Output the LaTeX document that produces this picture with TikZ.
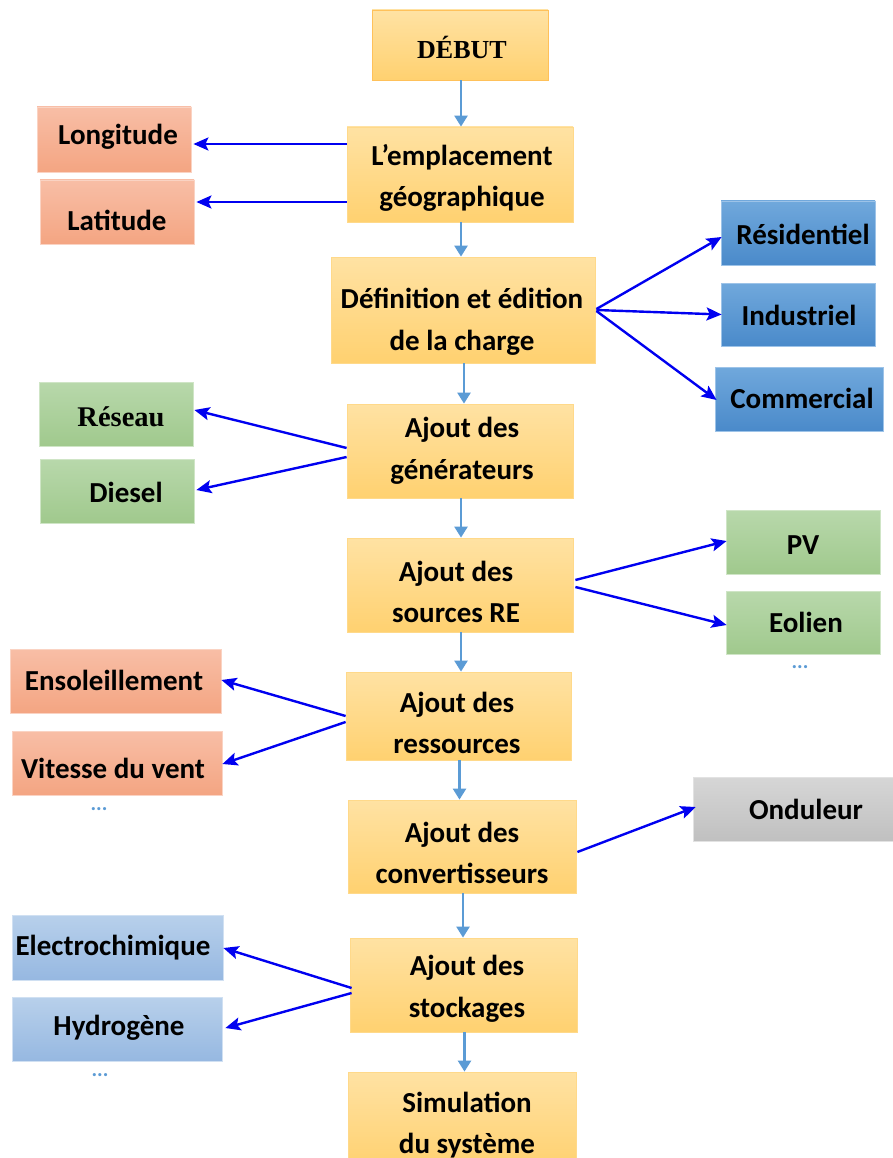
\documentclass[tikz,border=0pt]{standalone}
\usepackage{fontspec}
\setmainfont{Carlito}
\newfontfamily\serifb{Liberation Serif}
\usetikzlibrary{arrows.meta,calc}
\definecolor{ytop}{HTML}{FFE2A3}\definecolor{ybot}{HTML}{FFD170}\definecolor{yline}{HTML}{FFD98A}
\definecolor{otop}{HTML}{F8BEA6}\definecolor{obot}{HTML}{F4A582}\definecolor{oline}{HTML}{FAD3C3}
\definecolor{gtop}{HTML}{B8D8AB}\definecolor{gbot}{HTML}{A0C98D}\definecolor{gline}{HTML}{CFE5C6}
\definecolor{btop}{HTML}{70A8DC}\definecolor{bbot}{HTML}{4A8ACA}\definecolor{bline}{HTML}{9DC3E8}
\definecolor{ltop}{HTML}{B8D0EB}\definecolor{lbot}{HTML}{96B8E1}\definecolor{lline}{HTML}{D0E0F2}
\definecolor{stop}{HTML}{D6D6D6}\definecolor{sbot}{HTML}{C0C0C0}\definecolor{sline}{HTML}{E2E2E2}
\definecolor{flow}{HTML}{5B9BD5}
\definecolor{side}{HTML}{0000F0}
\tikzset{
  box/.style={rectangle, inner sep=0pt, line width=0.8pt},
  ybox/.style={box, top color=ytop, bottom color=ybot, draw=yline},
  obox/.style={box, top color=otop, bottom color=obot, draw=oline},
  gbox/.style={box, top color=gtop, bottom color=gbot, draw=gline},
  bbox/.style={box, top color=btop, bottom color=bbot, draw=bline},
  lbox/.style={box, top color=ltop, bottom color=lbot, draw=lline},
  sbox/.style={box, top color=stop, bottom color=sbot, draw=sline},
  txt/.style={align=center, inner sep=0pt, font=\fontsize{29}{41.5}\selectfont\bfseries},
  dots/.style={inner sep=0pt, text=flow, font=\fontsize{21}{21}\selectfont\bfseries},
  flowarrow/.style={draw=flow, line width=2.4pt, -{Triangle[length=11pt,width=13pt]}},
  sidearrow/.style={draw=side, line width=2.4pt, -{Stealth[length=15pt,width=13pt,inset=3pt]}}
}
\begin{document}
\begin{tikzpicture}[x=1pt,y=-1pt]
\clip (0,0) rectangle (893,1158);
\useasboundingbox (0,0) rectangle (893,1158);
\fill[white] (0,0) rectangle (893,1158);

% main column
\node[ybox, draw=ybot!80!orange, minimum width=176, minimum height=70] (debut) at (460,45) {};
\node[inner sep=0pt, font=\fontsize{26}{26}\selectfont\serifb\bfseries] at (462,47) {DÉBUT};
\node[ybox, minimum width=226, minimum height=95] (empl) at (460,174.5) {};
\node[txt] at (462,178) {L’emplacement\\géographique};
\node[ybox, minimum width=264, minimum height=106] (defn) at (463,310) {};
\node[txt] at (462,322) {Définition et édition\\de la charge};
\node[ybox, minimum width=226, minimum height=94] (gen) at (460,451) {};
\node[txt] at (462,451) {Ajout des\\générateurs};
\node[ybox, minimum width=226, minimum height=94] (srcs) at (460,585) {};
\node[txt] at (456,592) {Ajout des\\sources RE};
\node[ybox, minimum width=225, minimum height=88] (ress) at (458.5,716) {};
\node[txt] at (457,723) {Ajout des\\ressources};
\node[ybox, minimum width=228, minimum height=93] (conv) at (462,846.5) {};
\node[txt] at (462,853) {Ajout des\\convertisseurs};
\node[ybox, minimum width=227, minimum height=94] (stock) at (463.5,985) {};
\node[txt] at (467,989) {Ajout des\\stockages};
\node[ybox, minimum width=228, minimum height=96] (sim) at (462,1120) {};
\node[txt] at (467,1125) {Simulation\\du système};

% location
\node[obox, minimum width=154, minimum height=65] (longi) at (114,139.5) {};
\node[txt] at (118,137) {Longitude};
\node[obox, minimum width=154, minimum height=64] (lat) at (117,212) {};
\node[txt] at (117,220) {Latitude};

% load types
\node[bbox, minimum width=154, minimum height=64] (resid) at (798,233) {};
\node[txt] at (803,234) {Résidentiel};
\node[bbox, minimum width=154, minimum height=63] (indus) at (798,314.5) {};
\node[txt] at (799,315) {Industriel};
\node[bbox, minimum width=168, minimum height=64] (comm) at (799,399) {};
\node[txt] at (802,398) {Commercial};

% generators
\node[gbox, minimum width=154, minimum height=64] (reseau) at (116,414) {};
\node[inner sep=0pt, font=\fontsize{28.5}{28.5}\selectfont\serifb\bfseries] at (121,417) {Réseau};
\node[gbox, minimum width=154, minimum height=64] (diesel) at (117,491) {};
\node[txt] at (126,492) {Diesel};

% renewable sources
\node[gbox, minimum width=154, minimum height=64] (pv) at (803,542) {};
\node[txt] at (803,545) {PV};
\node[gbox, minimum width=154, minimum height=63] (eol) at (803,622.5) {};
\node[txt] at (806,622) {Eolien};
\node[dots] at (800,667) {...};

% resources
\node[obox, minimum width=211, minimum height=64] (enso) at (115.5,681) {};
\node[txt] at (114,680) {Ensoleillement};
\node[obox, minimum width=210, minimum height=64] (vit) at (117,763) {};
\node[txt] at (113,768) {Vitesse du vent};
\node[dots] at (99,809) {...};

% converters
\node[sbox, minimum width=200, minimum height=64] (ond) at (793,809) {};
\node[txt] at (806,809) {Onduleur};

% storage
\node[lbox, minimum width=211, minimum height=65] (elec) at (117.5,947.5) {};
\node[txt] at (113,948) {Electrochimique};
\node[lbox, minimum width=210, minimum height=64] (hydro) at (117,1029) {};
\node[txt] at (119,1028) {Hydrogène};
\node[dots] at (100,1075) {...};

% flow between the main steps
\foreach \a/\b in {debut/empl, empl/defn, defn/gen, gen/srcs, srcs/ress, ress/conv, conv/stock, stock/sim}
  \draw[flowarrow] ($(\a.south)+(1,0)$) -- ($(\a.south |- \b.north)+(1,0)$);

% side links
\draw[sidearrow] ($(empl.west)+(0,-30.5)$) -- ($(longi.east)+(2,4.5)$);
\draw[sidearrow] ($(empl.west)+(0,27.5)$) -- ($(lat.east)+(2,-10)$);
\draw[sidearrow] ($(defn.east)+(1,-1)$) -- ($(resid.west)+(1,4)$);
\draw[sidearrow] ($(defn.east)+(1,0)$) -- ($(indus.west)+(1,0)$);
\draw[sidearrow] ($(defn.east)+(1,1)$) -- ($(comm.west)+(2,1)$);
\draw[sidearrow] ($(gen.west)+(0,-3)$) -- ($(reseau.east)+(1,-4)$);
\draw[sidearrow] ($(gen.west)+(0,6)$) -- ($(diesel.east)+(2,-1)$);
\draw[sidearrow] ($(srcs.east)+(2,-5)$) -- ($(pv.west)+(1,-1)$);
\draw[sidearrow] ($(srcs.east)+(2,2)$) -- ($(eol.west)+(1,2.5)$);
\draw[sidearrow] ($(ress.west)+(0,0)$) -- ($(enso.east)+(0,-1)$);
\draw[sidearrow] ($(ress.west)+(0,6)$) -- ($(vit.east)+(0,1)$);
\draw[sidearrow] ($(conv.east)+(1,5.5)$) -- ($(ond.west)+(3,-2)$);
\draw[sidearrow] ($(stock.west)+(2,3)$) -- ($(elec.east)+(0,0.5)$);
\draw[sidearrow] ($(stock.west)+(2,8)$) -- ($(hydro.east)+(3,-1)$);
\end{tikzpicture}
\end{document}
